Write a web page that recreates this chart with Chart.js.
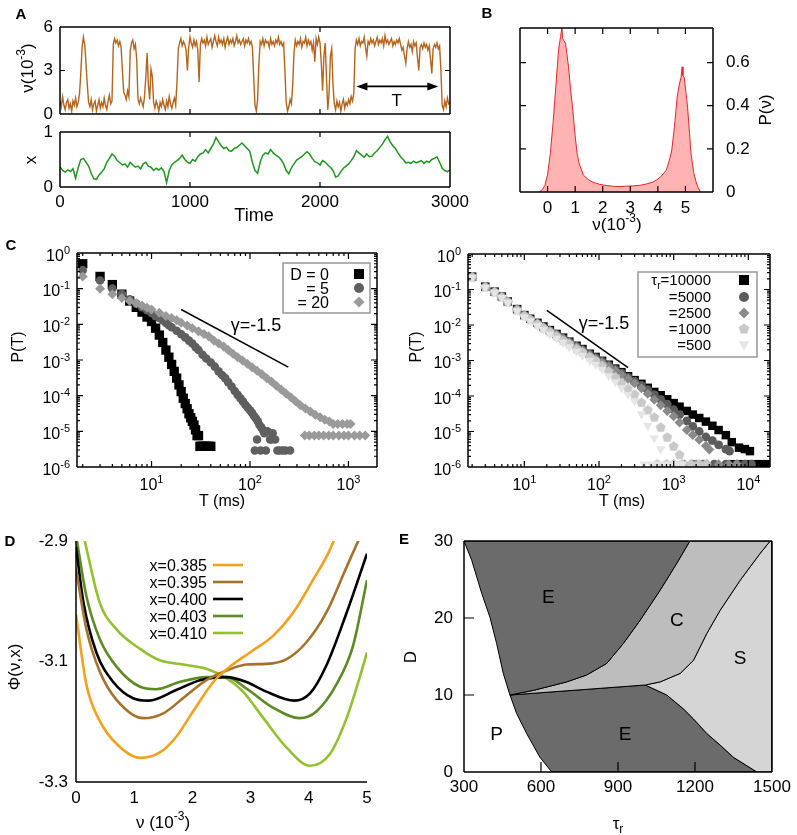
<!DOCTYPE html>
<html lang="en">
<head>
<meta charset="UTF-8">
<title>Rate model figure</title>
<script src="https://cdn.jsdelivr.net/npm/chart.js"></script>
<style>
  body { margin: 0; background: #fff; }
  #page { position: relative; width: 797px; height: 835px; overflow: hidden; }
  #page canvas { position: absolute; left: 0; top: 0; }
</style>
</head>
<body>
<div id="page"></div>
<script>
// ---------- A: rate trace (one value every 10 time units) ----------
const rateStep = 10;
const rateA = [
  0.9,0.5,1.2,0.6,0.3,0.8,1.0,0.4,0.7,0.2,0.9,0.6,1.1,0.5,0.8,1.4,2.8,4.6,5.3,4.8,
  3.5,2.0,0.8,0.5,1.0,0.3,0.7,0.9,0.2,0.6,1.0,0.4,0.8,0.5,1.1,0.6,0.3,0.9,1.3,0.7,
  0.9,4.8,5.2,4.9,5.1,4.7,5.0,4.6,3.0,1.5,1.3,1.0,1.6,1.2,4.3,4.9,5.1,4.5,4.8,3.8,
  1.0,0.7,1.1,0.8,0.5,1.2,2.5,4.2,2.0,1.0,3.1,2.6,0.8,0.4,0.9,0.6,0.2,0.8,0.5,1.0,
  0.6,0.3,0.9,0.5,1.2,0.7,0.4,0.8,1.1,0.6,2.2,4.5,4.9,5.2,4.7,5.0,4.8,4.4,3.0,4.6,
  5.3,4.9,4.6,5.1,4.7,5.0,4.4,2.2,4.8,5.2,4.9,5.1,4.7,5.3,4.8,5.0,5.2,4.6,5.0,5.4,
  5.0,4.7,5.3,4.9,5.1,4.8,5.2,4.6,5.0,5.3,4.8,5.1,4.9,5.2,4.7,5.0,5.4,4.9,5.1,4.8,
  5.0,5.2,4.7,5.1,4.9,5.2,4.8,5.0,4.6,2.5,0.6,0.2,1.0,3.5,5.0,4.8,5.2,4.7,5.1,4.9,
  5.0,4.6,5.2,4.8,5.0,4.7,5.1,4.9,5.3,4.8,5.0,4.7,4.9,3.0,0.8,0.2,0.5,1.0,0.7,2.0,
  4.2,5.1,4.7,5.0,4.8,5.2,4.6,5.0,4.9,5.3,4.7,5.1,4.8,5.0,4.4,4.9,3.6,5.2,4.8,5.3,
  4.9,3.5,1.6,4.0,4.9,2.5,0.3,1.5,4.0,4.5,2.0,0.7,0.3,0.9,0.5,0.8,0.2,0.7,1.0,0.4,
  0.8,0.6,1.0,0.7,1.2,0.9,1.4,4.5,5.1,4.8,5.2,4.7,5.0,4.9,5.3,4.6,4.0,5.0,4.8,5.2,
  4.9,5.1,4.7,5.0,5.3,4.8,5.1,4.9,5.2,4.7,5.4,4.9,5.1,4.8,5.0,5.2,4.7,5.0,4.8,5.1,
  4.9,5.2,4.8,4.4,4.6,4.0,3.5,4.5,5.0,4.6,4.8,4.3,5.0,4.7,4.9,3.9,3.0,4.6,4.8,4.5,
  4.9,4.6,4.8,4.4,4.7,3.8,2.8,4.5,4.8,4.6,4.9,4.5,4.7,3.0,0.6,0.3,0.9,0.5,1.1,0.7,
  0.8
];
// A: adaptation variable x (one value every 20 time units)
const adaptStep = 20;
const adaptA = [
  0.37,0.30,0.27,0.31,0.28,0.33,0.16,0.35,0.50,0.52,
  0.45,0.38,0.25,0.15,0.14,0.22,0.27,0.33,0.45,0.52,
  0.60,0.56,0.48,0.44,0.40,0.42,0.36,0.45,0.40,0.36,
  0.38,0.33,0.42,0.45,0.38,0.36,0.30,0.34,0.31,0.35,
  0.28,0.08,0.30,0.40,0.45,0.48,0.52,0.58,0.50,0.45,
  0.43,0.50,0.47,0.55,0.60,0.62,0.68,0.62,0.70,0.78,
  0.90,0.82,0.75,0.70,0.72,0.66,0.65,0.70,0.72,0.76,
  0.80,0.75,0.70,0.65,0.45,0.30,0.25,0.45,0.58,0.62,
  0.60,0.68,0.62,0.58,0.55,0.50,0.42,0.30,0.24,0.35,
  0.42,0.49,0.52,0.55,0.60,0.64,0.60,0.52,0.46,0.44,
  0.40,0.48,0.45,0.40,0.36,0.30,0.18,0.20,0.28,0.34,
  0.38,0.42,0.48,0.55,0.66,0.62,0.58,0.54,0.60,0.55,
  0.56,0.62,0.66,0.72,0.78,0.86,0.92,0.82,0.75,0.70,
  0.62,0.55,0.50,0.44,0.45,0.43,0.47,0.44,0.46,0.48,
  0.43,0.47,0.45,0.50,0.52,0.55,0.45,0.34,0.30,0.28,
  0.31
];
const arrowT = [2280, 2910];
const arrowNu = 1.9;

// ---------- B: distribution of nu ----------
const histNu = [-0.3,-0.2,-0.1,0,0.1,0.2,0.3,0.4,0.47,0.52,0.55,0.6,0.65,0.7,0.76,0.83,0.9,1.0,1.07,1.15,
  1.3,1.5,1.66,1.9,2.14,2.4,2.62,2.85,3.1,3.35,3.58,3.8,3.94,4.1,4.2,4.3,4.4,4.5,4.6,4.7,
  4.78,4.84,4.88,4.91,4.96,5.02,5.08,5.15,5.2,5.3,5.38,5.46,5.55];
const histP = [0,0.01,0.03,0.08,0.18,0.32,0.49,0.66,0.72,0.76,0.71,0.70,0.69,0.64,0.58,0.48,0.40,0.26,0.18,0.13,
  0.078,0.055,0.045,0.035,0.030,0.026,0.025,0.027,0.028,0.031,0.037,0.045,0.055,0.07,0.085,0.10,0.14,0.19,0.30,0.44,
  0.50,0.53,0.58,0.54,0.53,0.46,0.39,0.27,0.18,0.09,0.05,0.02,0];

// ---------- C left: P(T) for D = 0, 5, 20 ----------
const tD0 = [2,3,4,5,6,7,8,9,10,11,12,13,14,15,16,17,18,19,20,21,22,23,24,25,26,27,28,29,30,31,32,34,36,38,40];
const pD0 = [0.5,0.22,0.13,0.07,0.045,0.03,0.022,0.016,0.012,0.0078,0.005,0.0031,0.0019,0.0012,7.5e-4,4.8e-4,3.1e-4,2e-4,1.3e-4,8.5e-5,
  6e-5,4.3e-5,3.1e-5,2.4e-5,1.9e-5,1.5e-5,1.1e-5,7.6e-6,7.6e-6,3.8e-6,3.8e-6,3.8e-6,3.8e-6,3.8e-6,3.8e-6];
const tD5 = [2,3,4,5,6,7,8,9,10,11,12,13,14,15,16,18,20,22,24,26,28,30,33,36,40,44,48,52,56,60,65,70,75,80,85,90,95,100,
  105,110,115,120,125,130,135,140,150,160,170,180,112,118,128,145,165,190,200,215,230,255];
const pD5 = [0.33,0.17,0.1,0.072,0.05,0.038,0.03,0.025,0.021,0.017,0.015,0.013,0.011,0.0095,0.0083,0.0066,0.0053,0.0043,0.0035,
  0.0029,0.0023,0.0019,0.0014,0.0011,8.5e-4,6.5e-4,4.8e-4,3.8e-4,3.1e-4,2.4e-4,1.8e-4,1.35e-4,1.05e-4,8.5e-5,6.8e-5,5.5e-5,
  4.6e-5,3.9e-5,3.3e-5,2.7e-5,2.3e-5,1.9e-5,1.5e-5,1.3e-5,1.1e-5,8.8e-6,1e-5,5.9e-6,8.8e-6,5.9e-6,
  2.9e-6,5.9e-6,2.9e-6,2.9e-6,5.9e-6,2.9e-6,2.9e-6,2.9e-6,2.9e-6,2.9e-6];
const tD20 = [2,3,4,5,6,7,8,9,10,12,14,16,18,20,23,26,30,34,38,43,48,54,60,67,75,84,94,105,118,132,148,165,185,207,232,
  260,290,325,365,410,460,515,575,640,700,780,870,970,1050,360,400,450,500,560,630,700,800,900,1000,1150,1300,1480];
const pD20 = [0.22,0.1,0.07,0.055,0.045,0.039,0.034,0.029,0.026,0.021,0.017,0.015,0.013,0.011,0.0092,0.0078,0.0064,0.0054,
  0.0046,0.0035,0.0029,0.0024,0.0019,0.0015,0.0012,9.7e-4,7.8e-4,6.3e-4,5e-4,4e-4,3.1e-4,2.5e-4,1.9e-4,1.5e-4,1.15e-4,
  9e-5,7e-5,5.4e-5,4.4e-5,3.6e-5,2.9e-5,2.5e-5,2.1e-5,1.9e-5,1.6e-5,1.6e-5,1.6e-5,1.6e-5,1.6e-5,
  7.6e-6,7.6e-6,7.6e-6,7.6e-6,7.6e-6,7.6e-6,7.6e-6,7.6e-6,7.6e-6,7.6e-6,7.6e-6,7.6e-6,7.6e-6];

// ---------- C right: P(T) for tau_r = 10000 ... 500 ----------
const tR10000 = [2,3,4,5,6,8,10,12,15,18,22,27,33,40,50,60,75,90,110,135,165,200,245,300,370,450,550,670,820,1000,
  1200,1500,1800,2200,2700,3300,4000,5000,6000,7500,9000,10500,6300,8000,10000,12500,15000,18000,21000];
const pR10000 = [0.23,0.12,0.087,0.063,0.046,0.028,0.019,0.015,0.0115,0.0091,0.0072,0.0056,0.0044,0.0034,0.0026,0.0021,
  0.00155,0.00126,9.8e-4,7.6e-4,5.9e-4,4.7e-4,3.6e-4,2.8e-4,2.2e-4,1.7e-4,1.3e-4,1.05e-4,8.1e-5,6.3e-5,5e-5,3.8e-5,
  3e-5,2.4e-5,1.9e-5,1.45e-5,1.1e-5,7.9e-6,5e-6,3.5e-6,3.2e-6,2.8e-6,1.2e-6,1.2e-6,1.2e-6,1.2e-6,1.2e-6,1.2e-6,1.2e-6];
const tR5000 = [2,3,4,5,6,8,10,12,15,18,22,27,33,40,50,60,75,90,110,135,165,200,245,300,370,450,550,670,820,1000,
  1200,1500,1800,2200,2700,3300,4000,5000,5600,1800,2500,3500,5000,7000,9000,11000];
const pR5000 = [0.23,0.12,0.087,0.063,0.046,0.028,0.019,0.0145,0.011,0.0087,0.0069,0.0054,0.0042,0.0033,0.0025,0.002,
  0.0015,0.0012,9.4e-4,7.3e-4,5.6e-4,4.4e-4,3.4e-4,2.6e-4,2e-4,1.5e-4,1.1e-4,8e-5,5.9e-5,4.1e-5,3e-5,2e-5,1.4e-5,1e-5,
  7e-6,5.5e-6,4.2e-6,3.2e-6,2.8e-6,1.2e-6,1.2e-6,1.2e-6,1.2e-6,1.2e-6,1.2e-6,1.2e-6];
const tR2500 = [2,3,4,5,6,8,10,12,15,18,22,27,33,40,50,60,75,90,110,135,165,200,245,300,370,450,550,670,820,1000,
  1200,1500,1800,2200,2700,3000,1000,1400,2000,2800,4000,5500,7000];
const pR2500 = [0.23,0.12,0.087,0.063,0.046,0.028,0.019,0.0145,0.011,0.0086,0.0068,0.0053,0.0041,0.0032,0.0024,0.0019,
  0.0014,0.0011,8.8e-4,6.8e-4,5.2e-4,4e-4,3e-4,2.3e-4,1.65e-4,1.15e-4,7.9e-5,5.5e-5,3.8e-5,2.7e-5,1.8e-5,1.1e-5,8e-6,
  5.9e-6,4e-6,3.1e-6,1.2e-6,1.2e-6,1.2e-6,1.2e-6,1.2e-6,1.2e-6,1.2e-6];
const tR1000 = [2,3,4,5,6,8,10,12,15,18,22,27,33,40,50,60,75,90,110,135,165,200,245,300,370,450,550,670,820,1000,
  1200,600,800,1000,1300,1700,2200,2700];
const pR1000 = [0.22,0.115,0.083,0.06,0.044,0.026,0.018,0.014,0.0105,0.0081,0.0063,0.0048,0.0036,0.0029,0.0021,0.0017,
  0.00125,9.8e-4,7.1e-4,4.9e-4,3.4e-4,2.3e-4,1.6e-4,1.1e-4,6.5e-5,4e-5,2.5e-5,1.3e-5,6.8e-6,3.8e-6,2.2e-6,
  1.2e-6,1.2e-6,1.2e-6,1.2e-6,1.2e-6,1.2e-6,1.2e-6];
const tR500 = [2,3,4,5,6,8,10,12,15,18,22,27,33,40,50,60,75,90,110,135,165,200,245,300,370,450,550,670,
  400,500,600,750,900,1100,1300];
const pR500 = [0.22,0.115,0.082,0.059,0.043,0.025,0.0166,0.0129,0.0095,0.0074,0.0055,0.0042,0.0032,0.0024,0.0018,0.00138,
  0.001,7.8e-4,5.6e-4,3.7e-4,2.5e-4,1.7e-4,1.1e-4,7.2e-5,3.1e-5,1.45e-5,6.5e-6,3.2e-6,
  1.2e-6,1.2e-6,1.2e-6,1.2e-6,1.2e-6,1.2e-6,1.2e-6];
const gammaT = [20, 245];
const gammaP = [0.026, 6.3e-4];

// ---------- D: potential Phi(nu, x) ----------
const v385 = [0,0.18,0.41,0.70,1.10,1.44,1.73,2.01,2.36,2.64,2.99,3.39,3.73,4.07,4.33,4.6];
const phi385 = [-3.022,-3.139,-3.199,-3.237,-3.260,-3.251,-3.224,-3.183,-3.134,-3.109,-3.085,-3.057,-3.019,-2.965,-2.921,-2.86];
const v395 = [0,0.18,0.41,0.70,1.16,1.50,1.90,2.24,2.59,2.93,3.27,3.62,3.96,4.30,4.65,4.85,5.0];
const phi395 = [-2.946,-3.047,-3.117,-3.164,-3.194,-3.186,-3.156,-3.131,-3.115,-3.105,-3.104,-3.096,-3.068,-3.019,-2.943,-2.9,-2.87];
const v400 = [0,0.13,0.35,0.64,0.98,1.25,1.73,2.13,2.59,2.93,3.27,3.75,4.02,4.30,4.65,5.0];
const phi400 = [-2.91,-3.003,-3.085,-3.134,-3.161,-3.165,-3.147,-3.131,-3.126,-3.134,-3.150,-3.165,-3.153,-3.107,-3.019,-2.921];
const v403 = [0,0.18,0.41,0.70,1.10,1.38,1.78,2.24,2.59,2.93,3.39,3.84,4.13,4.47,4.76,5.0];
const phi403 = [-2.89,-2.992,-3.063,-3.109,-3.142,-3.146,-3.134,-3.126,-3.126,-3.145,-3.177,-3.194,-3.183,-3.139,-3.074,-2.965];
const v410 = [0,0.15,0.41,0.70,1.10,1.44,1.84,2.24,2.59,2.87,3.22,3.62,4.02,4.36,4.65,4.87,5.0];
const phi410 = [-2.84,-2.9,-3.003,-3.047,-3.079,-3.098,-3.105,-3.112,-3.128,-3.150,-3.194,-3.243,-3.273,-3.254,-3.194,-3.128,-3.085];
const dLabels = ['x=0.385', 'x=0.395', 'x=0.400', 'x=0.403', 'x=0.410'];
const dColors = ['#f2a11f', '#a5722b', '#000000', '#5d8b23', '#93c02f'];

// ---------- E: phase diagram boundaries (tau_r, D) ----------
const pTau = [300,330,369,401,427,453,479,505,544,596,642];
const pD   = [30,27.5,23.2,20.1,16.7,12.8,10,7.6,5.0,1.9,0];
const ecTau = [479,570,700,778,856,921,986,1064,1129,1180];
const ecD   = [10,10.6,11.7,12.6,14.1,16.7,19.7,23.6,27.1,30];
const elTau = [479,1006];
const elD   = [10,11.3];
const csTau = [1006,1064,1142,1194,1246,1298,1376,1454,1493];
const csD   = [11.3,11.7,12.8,14.5,18.0,21.0,24.9,28.4,30];
const esTau = [1006,1090,1155,1194,1246,1298,1350,1441];
const esD   = [11.3,10.0,8.2,6.9,5.0,3.5,1.9,0];
const regionNames = ['E', 'C', 'S', 'P', 'E'];
const regionTau = [629, 1129, 1376, 427, 928];
const regionD = [22.9, 19.9, 14.9, 5.0, 5.0];

// ---------- helpers ----------
const W = 797, H = 835;
const FONT = '"Liberation Sans", Arial, Helvetica, sans-serif';
Chart.defaults.font.family = FONT;
Chart.defaults.font.size = 16;
Chart.defaults.color = '#000';
Chart.defaults.animation = false;
Chart.defaults.events = [];
Chart.defaults.plugins.legend.display = false;
Chart.defaults.plugins.tooltip.enabled = false;

function newCanvas() {
  const c = document.createElement('canvas');
  c.width = W; c.height = H;
  document.getElementById('page').appendChild(c);
  return c;
}
// padding so that the plot area lands on box = [left, top, right, bottom]
function pad(box, leftW, bottomH, rightW) {
  return { left: box[0] - leftW, top: box[1], right: W - box[2] - (rightW || 0), bottom: H - box[3] - bottomH };
}
const fixW = w => s => { s.width = w; };
const fixH = h => s => { s.height = h; };
const useTicks = vals => s => { s.ticks = vals.map(v => ({ value: v })); };
const xy = (xs, ys) => xs.map((x, i) => ({ x, y: ys[i] }));
const axis = extra => Object.assign({ grid: { display: false, drawTicks: false }, border: { display: false } }, extra);
const plainTicks = (padding, extra) => Object.assign({ padding, maxRotation: 0, font: { size: 17 }, callback: v => String(v) }, extra);
const deco = fn => ({ id: 'deco', afterDraw(c) { fn(c, c.ctx, c.chartArea, c.scales); } });

// text with optional super (1) / sub (-1) parts, y = visual middle
function rich(ctx, x, y, parts, size, align, rot, bold) {
  ctx.save();
  ctx.translate(x, y);
  if (rot) ctx.rotate(rot);
  ctx.fillStyle = '#000';
  ctx.textBaseline = 'alphabetic';
  const fnt = p => (bold ? 'bold ' : '') + Math.round(p[1] ? size * 0.68 : size) + 'px ' + FONT;
  let w = 0;
  parts.forEach(p => { ctx.font = fnt(p); w += ctx.measureText(p[0]).width; });
  let cx = align === 'center' ? -w / 2 : align === 'right' ? -w : 0;
  parts.forEach(p => {
    ctx.font = fnt(p);
    const dy = p[1] === 1 ? -size * 0.45 : p[1] === -1 ? size * 0.25 : 0;
    ctx.fillText(p[0], cx, size * 0.36 + dy);
    cx += ctx.measureText(p[0]).width;
  });
  ctx.restore();
}
const txt = s => [[s, 0]];

function frame(chart, o) {
  const { ctx, chartArea: a, scales } = chart;
  const sides = o.sides || 'lrtb', xs = o.xs || 'tb', ys = o.ys || 'lr';
  ctx.save();
  ctx.strokeStyle = '#000';
  ctx.lineWidth = o.lw || 1.5;
  ctx.beginPath();
  if (sides.includes('l')) { ctx.moveTo(a.left, a.top); ctx.lineTo(a.left, a.bottom); }
  if (sides.includes('r')) { ctx.moveTo(a.right, a.top); ctx.lineTo(a.right, a.bottom); }
  if (sides.includes('t')) { ctx.moveTo(a.left, a.top); ctx.lineTo(a.right, a.top); }
  if (sides.includes('b')) { ctx.moveTo(a.left, a.bottom); ctx.lineTo(a.right, a.bottom); }
  ctx.stroke();
  ctx.lineWidth = o.tw || 1.2;
  ctx.beginPath();
  (o.xt || []).forEach(([v, len]) => {
    const px = scales.x.getPixelForValue(v);
    if (xs.includes('b')) { ctx.moveTo(px, a.bottom); ctx.lineTo(px, a.bottom - len); }
    if (xs.includes('t')) { ctx.moveTo(px, a.top); ctx.lineTo(px, a.top + len); }
  });
  (o.yt || []).forEach(([v, len]) => {
    const py = scales.y.getPixelForValue(v);
    if (ys.includes('l')) { ctx.moveTo(a.left, py); ctx.lineTo(a.left + len, py); }
    if (ys.includes('r')) { ctx.moveTo(a.right, py); ctx.lineTo(a.right - len, py); }
  });
  ctx.stroke();
  ctx.restore();
}
const marks = (vals, len) => vals.map(v => [v, len]);
function logMarks(lo, hi) {
  const out = [];
  for (let e = Math.floor(Math.log10(lo)); e <= Math.ceil(Math.log10(hi)); e++) {
    for (let k = 1; k <= 9; k++) {
      const v = k * Math.pow(10, e);
      if (v > lo * 1.001 && v < hi * 0.999) out.push([v, k === 1 ? 6 : 3]);
    }
  }
  return out;
}
function logLabels(c, xExp, yExp) {
  const { ctx, chartArea: a, scales } = c;
  xExp.forEach(e => rich(ctx, scales.x.getPixelForValue(Math.pow(10, e)), a.bottom + 17, [['10', 0], [String(e), 1]], 16, 'center'));
  yExp.forEach(e => rich(ctx, a.left - 7, scales.y.getPixelForValue(Math.pow(10, e)) + 2, [['10', 0], [String(e), 1]], 16, 'right'));
}
function marker(ctx, kind, x, y, r, color) {
  ctx.save();
  ctx.fillStyle = color;
  ctx.beginPath();
  if (kind === 'rect') ctx.rect(x - r, y - r, 2 * r, 2 * r);
  else if (kind === 'circle') ctx.arc(x, y, r, 0, 2 * Math.PI);
  else if (kind === 'diamond') { ctx.moveTo(x, y - r); ctx.lineTo(x + r, y); ctx.lineTo(x, y + r); ctx.lineTo(x - r, y); }
  else if (kind === 'pentagon') {
    for (let i = 0; i < 5; i++) { const t = -Math.PI / 2 + i * 2 * Math.PI / 5; ctx.lineTo(x + r * Math.cos(t), y + r * Math.sin(t)); }
  } else if (kind === 'down') { ctx.moveTo(x - r, y - r * 0.7); ctx.lineTo(x + r, y - r * 0.7); ctx.lineTo(x, y + r); }
  ctx.closePath();
  ctx.fill();
  ctx.restore();
}
function pentagonImage(color, r) {
  const c = document.createElement('canvas');
  const s = Math.ceil(2 * r + 2);
  c.width = s; c.height = s;
  marker(c.getContext('2d'), 'pentagon', s / 2, s / 2, r, color);
  return c;
}

// ---------- A top ----------
new Chart(newCanvas(), {
  type: 'line',
  data: { datasets: [{ data: rateA.map((v, i) => ({ x: i * rateStep, y: v })), borderColor: '#b5641d', borderWidth: 1.4, pointRadius: 0 }] },
  options: {
    responsive: false,
    layout: { padding: pad([60, 27, 450, 114], 40, 0) },
    scales: {
      x: { type: 'linear', min: 0, max: 3000, display: false },
      y: axis({ min: 0, max: 6, afterFit: fixW(40), afterBuildTicks: useTicks([0, 3, 6]), ticks: plainTicks(7) })
    }
  },
  plugins: [deco((c, ctx, a, s) => {
    frame(c, { xt: marks([1000, 2000], 5), yt: marks([3], 5) });
    const x1 = s.x.getPixelForValue(arrowT[0]), x2 = s.x.getPixelForValue(arrowT[1]), y = s.y.getPixelForValue(arrowNu);
    ctx.save();
    ctx.strokeStyle = '#000'; ctx.fillStyle = '#000'; ctx.lineWidth = 1.8;
    ctx.beginPath(); ctx.moveTo(x1 + 6, y); ctx.lineTo(x2 - 6, y); ctx.stroke();
    ctx.beginPath();
    ctx.moveTo(x1, y); ctx.lineTo(x1 + 11, y - 4); ctx.lineTo(x1 + 11, y + 4); ctx.closePath();
    ctx.moveTo(x2, y); ctx.lineTo(x2 - 11, y - 4); ctx.lineTo(x2 - 11, y + 4); ctx.closePath();
    ctx.fill();
    ctx.restore();
    rich(ctx, s.x.getPixelForValue(2590), s.y.getPixelForValue(1.0), txt('T'), 17, 'center');
    rich(ctx, 27, 68, [['ν(10', 0], ['-3', 1], [')', 0]], 17, 'center', -Math.PI / 2);
    rich(ctx, 21, 14, txt('A'), 15, 'center', 0, true);
  })]
});

// ---------- A bottom ----------
new Chart(newCanvas(), {
  type: 'line',
  data: { datasets: [{ data: adaptA.map((v, i) => ({ x: i * adaptStep, y: v })), borderColor: '#1f961f', borderWidth: 1.5, pointRadius: 0 }] },
  options: {
    responsive: false,
    layout: { padding: pad([60, 132, 450, 187], 40, 30) },
    scales: {
      x: axis({ type: 'linear', min: 0, max: 3000, afterFit: fixH(30), afterBuildTicks: useTicks([0, 1000, 2000, 3000]), ticks: plainTicks(5) }),
      y: axis({ min: 0, max: 1, afterFit: fixW(40), afterBuildTicks: useTicks([0, 1]), ticks: plainTicks(7) })
    }
  },
  plugins: [deco((c, ctx) => {
    frame(c, { xt: marks([1000, 2000], 5) });
    rich(ctx, 30, 160, txt('x'), 17, 'center', -Math.PI / 2);
    rich(ctx, 254, 215, txt('Time'), 18, 'center');
  })]
});

// ---------- B ----------
new Chart(newCanvas(), {
  type: 'line',
  data: { datasets: [{ data: xy(histNu, histP), fill: 'origin', backgroundColor: '#ffb3b3', borderColor: '#e2262a', borderWidth: 1, pointRadius: 0 }] },
  options: {
    responsive: false,
    layout: { padding: pad([520, 28, 713, 192], 0, 30, 45) },
    scales: {
      x: axis({ type: 'linear', min: -1, max: 6, afterFit: fixH(30), afterBuildTicks: useTicks([0, 1, 2, 3, 4, 5]), ticks: plainTicks(6) }),
      y: axis({ position: 'right', min: 0, max: 0.76, afterFit: fixW(45), afterBuildTicks: useTicks([0, 0.2, 0.4, 0.6]),
        ticks: plainTicks(13, { callback: v => v === 0 ? '0' : v.toFixed(1) }) })
    }
  },
  plugins: [deco((c, ctx) => {
    frame(c, { xt: marks([0, 1, 2, 3, 4, 5], 6), yt: marks([0.2, 0.4, 0.6], 6) });
    rich(ctx, 765, 110, txt('P(ν)'), 17, 'center', -Math.PI / 2);
    rich(ctx, 617, 224, [['ν(10', 0], ['-3', 1], [')', 0]], 17, 'center');
    rich(ctx, 487, 13, txt('B'), 15, 'center', 0, true);
  })]
});

// ---------- C left ----------
new Chart(newCanvas(), {
  type: 'scatter',
  data: { datasets: [
    { data: xy(gammaT, gammaP), showLine: true, borderColor: '#000', borderWidth: 1.5, pointRadius: 0 },
    { data: xy(tD20, pD20), pointStyle: 'rectRot', pointRadius: 5, backgroundColor: '#9a9a9a', borderColor: '#9a9a9a', borderWidth: 0 },
    { data: xy(tD5, pD5), pointStyle: 'circle', pointRadius: 4.3, backgroundColor: '#5f5f5f', borderColor: '#5f5f5f', borderWidth: 0 },
    { data: xy(tD0, pD0), pointStyle: 'rect', pointRadius: 6.6, backgroundColor: '#000', borderColor: '#000', borderWidth: 0 }
  ] },
  options: {
    responsive: false,
    layout: { padding: pad([77, 253, 377, 467], 60, 40) },
    scales: {
      x: axis({ type: 'logarithmic', min: 1.75, max: 1950, afterFit: fixH(40), ticks: { display: false } }),
      y: axis({ type: 'logarithmic', min: 1e-6, max: 1, afterFit: fixW(60), ticks: { display: false } })
    }
  },
  plugins: [deco((c, ctx, a, s) => {
    frame(c, { xt: logMarks(1.75, 1950), yt: logMarks(1e-6, 1) });
    logLabels(c, [1, 2, 3], [0, -1, -2, -3, -4, -5, -6]);
    rich(ctx, s.x.getPixelForValue(115), s.y.getPixelForValue(0.0096), txt('γ=-1.5'), 18, 'center');
    // legend
    ctx.save(); ctx.strokeStyle = '#999'; ctx.lineWidth = 1.5; ctx.strokeRect(283, 263, 87, 50); ctx.restore();
    rich(ctx, 329, 274, txt('D = 0'), 16, 'right');
    rich(ctx, 329, 288, txt('= 5'), 16, 'right');
    rich(ctx, 329, 302, txt('= 20'), 16, 'right');
    marker(ctx, 'rect', 359, 274, 5, '#000');
    marker(ctx, 'circle', 359, 288, 5, '#5f5f5f');
    marker(ctx, 'diamond', 359, 302, 5.5, '#9a9a9a');
    rich(ctx, 222, 500, txt('T (ms)'), 16, 'center');
    rich(ctx, 17, 347, txt('P(T)'), 16, 'center', -Math.PI / 2);
    rich(ctx, 11, 245, txt('C'), 15, 'center', 0, true);
  })]
});

// ---------- C right ----------
const pentagon = pentagonImage('#c9c9c9', 5.2);
new Chart(newCanvas(), {
  type: 'scatter',
  data: { datasets: [
    { data: xy(gammaT, gammaP), showLine: true, borderColor: '#000', borderWidth: 1.5, pointRadius: 0 },
    { data: xy(tR500, pR500), pointStyle: 'triangle', rotation: 180, pointRadius: 5.4, backgroundColor: '#e5e5e5', borderColor: '#e5e5e5', borderWidth: 0 },
    { data: xy(tR1000, pR1000), pointStyle: pentagon, pointRadius: 5, backgroundColor: '#c9c9c9' },
    { data: xy(tR2500, pR2500), pointStyle: 'rectRot', pointRadius: 5, backgroundColor: '#8a8a8a', borderColor: '#8a8a8a', borderWidth: 0 },
    { data: xy(tR5000, pR5000), pointStyle: 'circle', pointRadius: 4.4, backgroundColor: '#5c5c5c', borderColor: '#5c5c5c', borderWidth: 0 },
    { data: xy(tR10000, pR10000), pointStyle: 'rect', pointRadius: 6, backgroundColor: '#000', borderColor: '#000', borderWidth: 0 }
  ] },
  options: {
    responsive: false,
    layout: { padding: pad([468, 254, 770, 467], 60, 40) },
    scales: {
      x: axis({ type: 'logarithmic', min: 1.76, max: 19500, afterFit: fixH(40), ticks: { display: false } }),
      y: axis({ type: 'logarithmic', min: 1e-6, max: 1, afterFit: fixW(60), ticks: { display: false } })
    }
  },
  plugins: [deco((c, ctx, a, s) => {
    frame(c, { xt: logMarks(1.76, 19500), yt: logMarks(1e-6, 1) });
    logLabels(c, [1, 2, 3, 4], [0, -1, -2, -3, -4, -5, -6]);
    rich(ctx, s.x.getPixelForValue(117), s.y.getPixelForValue(0.012), txt('γ=-1.5'), 18, 'center');
    ctx.save(); ctx.strokeStyle = '#999'; ctx.lineWidth = 1.5; ctx.strokeRect(638, 272, 119, 85); ctx.restore();
    const rows = [280, 297, 313, 329, 345];
    rich(ctx, 711, rows[0], [['τ', 0], ['r', -1], ['=10000', 0]], 15, 'right');
    rich(ctx, 711, rows[1], txt('=5000'), 15, 'right');
    rich(ctx, 711, rows[2], txt('=2500'), 15, 'right');
    rich(ctx, 711, rows[3], txt('=1000'), 15, 'right');
    rich(ctx, 711, rows[4], txt('=500'), 15, 'right');
    marker(ctx, 'rect', 744, rows[0], 5, '#000');
    marker(ctx, 'circle', 744, rows[1], 5, '#5c5c5c');
    marker(ctx, 'diamond', 744, rows[2], 5.5, '#8a8a8a');
    marker(ctx, 'pentagon', 744, rows[3], 5.5, '#c9c9c9');
    marker(ctx, 'down', 744, rows[4], 5.5, '#e5e5e5');
    rich(ctx, 622, 500, txt('T (ms)'), 16, 'center');
    rich(ctx, 415, 347, txt('P(T)'), 16, 'center', -Math.PI / 2);
  })]
});

// ---------- D ----------
const dV = [v385, v395, v400, v403, v410];
const dPhi = [phi385, phi395, phi400, phi403, phi410];
new Chart(newCanvas(), {
  type: 'line',
  data: { datasets: dV.map((v, i) => ({ data: xy(v, dPhi[i]), borderColor: dColors[i], borderWidth: 2.6, pointRadius: 0, cubicInterpolationMode: 'monotone' })) },
  options: {
    responsive: false,
    layout: { padding: pad([76, 541, 367, 782], 50, 30) },
    scales: {
      x: axis({ type: 'linear', min: 0, max: 5, afterFit: fixH(30), afterBuildTicks: useTicks([0, 1, 2, 3, 4, 5]), ticks: plainTicks(6) }),
      y: axis({ min: -3.3, max: -2.9, afterFit: fixW(50), afterBuildTicks: useTicks([-3.3, -3.1, -2.9]),
        ticks: plainTicks(8, { callback: v => v.toFixed(1) }) })
    }
  },
  plugins: [deco((c, ctx) => {
    frame(c, { sides: 'lb' });
    const rows = [565, 582, 599, 616, 633];
    dLabels.forEach((l, i) => {
      rich(ctx, 207, rows[i], txt(l), 16, 'right');
      ctx.save(); ctx.strokeStyle = dColors[i]; ctx.lineWidth = 2.6;
      ctx.beginPath(); ctx.moveTo(213, rows[i]); ctx.lineTo(243, rows[i]); ctx.stroke(); ctx.restore();
    });
    rich(ctx, 163, 822, [['ν (10', 0], ['-3', 1], [')', 0]], 17, 'center');
    rich(ctx, 14, 667, txt('Φ(ν,x)'), 17, 'center', -Math.PI / 2);
    rich(ctx, 10, 541, txt('D'), 15, 'center', 0, true);
  })]
});

// ---------- E ----------
const edge = (t, d) => xy(t, d);
const upperE = edge(pTau.slice(0, 7), pD.slice(0, 7)).concat(edge(ecTau, ecD).slice(1), [{ x: 300, y: 30 }]);
const bandC = edge(ecTau, ecD).reverse().concat(edge(elTau, elD).slice(1), edge(csTau, csD).slice(1), [{ x: 1180, y: 30 }]);
const regionS = edge(csTau, csD).concat([{ x: 1500, y: 30 }, { x: 1500, y: 0 }], edge(esTau, esD).reverse());
const lowerE = edge(elTau, elD).concat(edge(esTau, esD).slice(1), edge(pTau.slice(6), pD.slice(6)).reverse());
const poly = (pts, color) => ({ data: pts, fill: 'shape', backgroundColor: color, borderColor: '#000', borderWidth: 1, pointRadius: 0, tension: 0 });
new Chart(newCanvas(), {
  type: 'line',
  data: { datasets: [poly(upperE, '#6b6b6b'), poly(bandC, '#bdbdbd'), poly(regionS, '#d5d5d5'), poly(lowerE, '#6b6b6b')] },
  options: {
    responsive: false,
    layout: { padding: pad([464, 541, 772, 772], 40, 30) },
    scales: {
      x: axis({ type: 'linear', min: 300, max: 1500, afterFit: fixH(30), afterBuildTicks: useTicks([300, 600, 900, 1200, 1500]), ticks: plainTicks(5) }),
      y: axis({ min: 0, max: 30, afterFit: fixW(40), afterBuildTicks: useTicks([0, 10, 20, 30]), ticks: plainTicks(11) })
    }
  },
  plugins: [deco((c, ctx, a, s) => {
    frame(c, { xt: marks([600, 900, 1200], 10), xs: 'b', yt: marks([10, 20], 10), ys: 'l' });
    regionNames.forEach((n, i) => rich(ctx, s.x.getPixelForValue(regionTau[i]), s.y.getPixelForValue(regionD[i]), txt(n), 19, 'center'));
    rich(ctx, 618, 823, [['τ', 0], ['r', -1]], 17, 'center');
    rich(ctx, 410, 657, txt('D'), 17, 'center', -Math.PI / 2);
    rich(ctx, 404, 539, txt('E'), 15, 'center', 0, true);
  })]
});
</script>
</body>
</html>
